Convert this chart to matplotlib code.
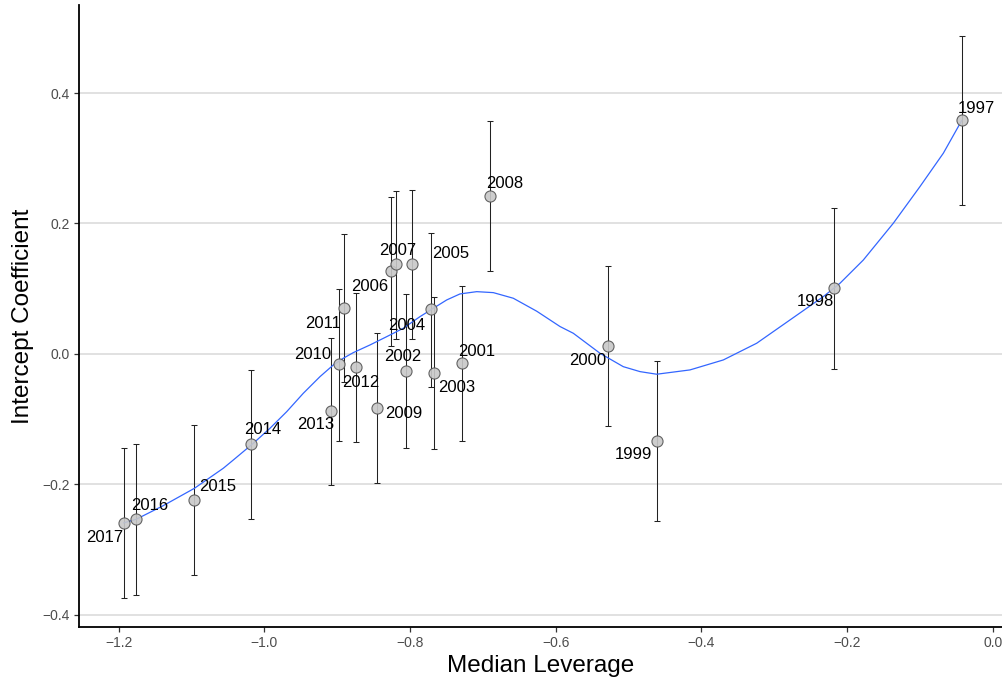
import matplotlib
matplotlib.use("Agg")
import matplotlib.pyplot as plt

plt.rcParams['font.family'] = ['Liberation Sans', 'DejaVu Sans']

# data
years = list(range(1997, 2018))
leverage = [-0.0425, -0.2174, -0.4609, -0.5286, -0.7286, -0.8051, -0.7675,
            -0.7716, -0.7969, -0.8257, -0.8188, -0.6906, -0.8450, -0.8975,
            -0.8900, -0.8740, -0.9085, -1.0188, -1.0962, -1.1762, -1.1931]
coef = [0.3584, 0.1007, -0.1330, 0.0123, -0.0143, -0.0261, -0.0291,
        0.0685, 0.1375, 0.1268, 0.1375, 0.2423, -0.0823, -0.0153,
        0.0700, -0.0205, -0.0870, -0.1380, -0.2244, -0.2530, -0.2590]
ci_low = [0.2285, -0.0235, -0.2560, -0.1110, -0.1330, -0.1440, -0.1450,
          -0.0506, 0.0230, 0.0123, 0.0230, 0.1270, -0.1980, -0.1330,
          -0.0430, -0.1345, -0.2010, -0.2525, -0.3390, -0.3700, -0.3747]
ci_high = [0.4880, 0.2244, -0.0102, 0.1355, 0.1038, 0.0925, 0.0870,
           0.1850, 0.2520, 0.2400, 0.2505, 0.3570, 0.0320, 0.1000,
           0.1835, 0.0935, 0.0240, -0.0240, -0.1094, -0.1375, -0.1447]

# smoothed fit line
fit_x = [-1.193, -1.176, -1.1388, -1.096, -1.0564, -1.0426, -1.0152, -0.9923,
         -0.9693, -0.9465, -0.9236, -0.9053, -0.8916, -0.8779, -0.8549, -0.832,
         -0.8092, -0.7863, -0.768, -0.7496, -0.7314, -0.7084, -0.6856, -0.6582,
         -0.626, -0.594, -0.5758, -0.5391, -0.5072, -0.4842, -0.4613, -0.4156,
         -0.3698, -0.324, -0.2783, -0.2325, -0.2096, -0.1776, -0.1364, -0.0998,
         -0.0677, -0.0425]
fit_y = [-0.259, -0.2535, -0.2326, -0.206, -0.1753, -0.1626, -0.137, -0.114,
         -0.0885, -0.0603, -0.0348, -0.0169, -0.0066, 0.002, 0.0138, 0.0265,
         0.0394, 0.0572, 0.070, 0.0828, 0.092, 0.0955, 0.094, 0.0854,
         0.0655, 0.0420, 0.0317, 0.001, -0.0195, -0.0271, -0.0311, -0.0245,
         -0.0092, 0.0164, 0.0521, 0.0879, 0.1084, 0.144, 0.2004, 0.2566,
         0.3078, 0.3578]

# label offsets in pixels (layout only)
label_dx = [15, -19, -24, -20, 15, -4, 23, -24, 38, -22, 1, 15, 27, -26,
            -21, 5, -15, 12, 23, 14, -19]
label_dy = [12, -13, -14, -15, 12, 14, -15, -16, 11, -15, 14, 12, -6, 9,
            -15, -15, -14, 14, 14, 13, -15]

fig = plt.figure(figsize=(10.03, 6.81), dpi=100)
ax = fig.add_axes([79 / 1003, (681 - 626.7) / 681, (1003 - 79) / 1003, (626.7 - 5) / 681])

ax.set_xlim(-1.2545, 0.0142)
ax.set_ylim(-0.4182, 0.535)
ax.set_yticks([-0.4, -0.2, 0.0, 0.2, 0.4])
ax.set_xticks([-1.2, -1.0, -0.8, -0.6, -0.4, -0.2, 0.0])
ax.set_xticklabels(['\u22121.2', '\u22121.0', '\u22120.8', '\u22120.6', '\u22120.4', '\u22120.2', '0.0'])
ax.set_yticklabels(['\u22120.4', '\u22120.2', '0.0', '0.2', '0.4'])
ax.grid(axis='y', color='#d9d9d9', lw=1.1)
ax.set_axisbelow(True)

for side in ['top', 'right']:
    ax.spines[side].set_visible(False)
for side in ['left', 'bottom']:
    ax.spines[side].set_linewidth(1.3)
    ax.spines[side].set_color('black')
ax.tick_params(axis='both', length=3.5, width=0.9, color='#333333',
               labelsize=10, labelcolor='#4d4d4d', pad=3)

err_lo = [c - l for c, l in zip(coef, ci_low)]
err_hi = [h - c for c, h in zip(coef, ci_high)]
ax.errorbar(leverage, coef, yerr=[err_lo, err_hi], fmt='none',
            ecolor='#222222', elinewidth=0.75, capsize=2.5, capthick=0.75, zorder=2)

ax.plot(fit_x, fit_y, color='#3366FF', lw=0.9, zorder=3)

ax.scatter(leverage, coef, s=64, facecolor='#c8c8c8', edgecolor='#555555',
           linewidth=0.8, alpha=0.9, zorder=4)

for yr, x, y, dx, dy in zip(years, leverage, coef, label_dx, label_dy):
    ax.annotate(str(yr), (x, y), xytext=(dx, dy), textcoords='offset pixels',
                ha='center', va='center', fontsize=12, color='black', zorder=5)

ax.set_xlabel('Median Leverage', fontsize=17.5, labelpad=4)
ax.set_ylabel('Intercept Coefficient', fontsize=17.5, labelpad=6)

fig.savefig('out.png', dpi=100)
